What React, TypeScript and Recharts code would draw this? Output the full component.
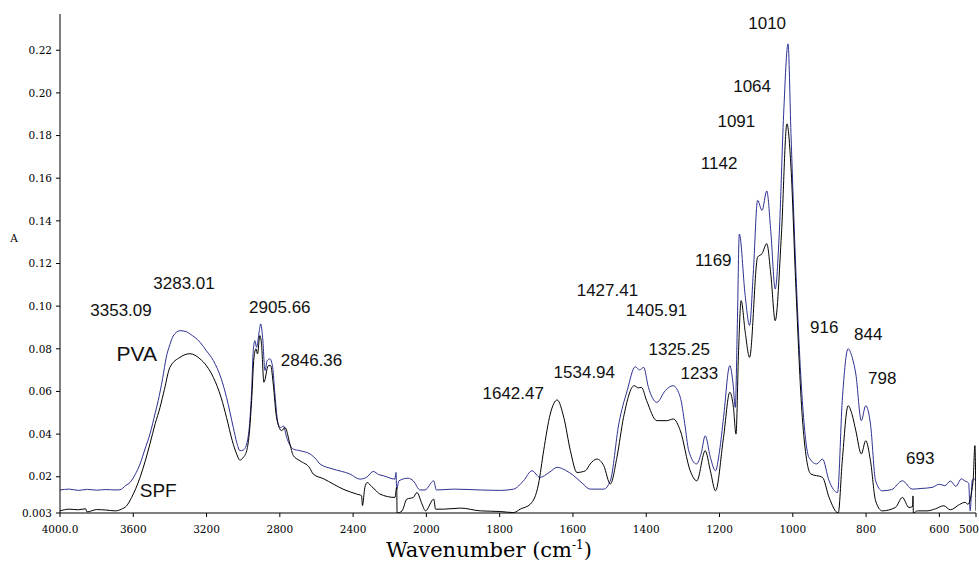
import React from 'react';
import { LineChart, Line, XAxis, YAxis, ReferenceDot } from 'recharts';

// PVA spectrum (blue), wavenumber cm-1 / absorbance
const pvaWave = [
  4000, 3950, 3900, 3850, 3800, 3750, 3700, 3673, 3640, 3618, 3590, 3563, 3536, 3509, 3480, 3464,
  3440, 3420, 3400, 3382, 3345, 3310, 3291, 3236, 3200, 3163, 3120, 3091, 3054, 3035, 3018, 3000,
  2981, 2965, 2954, 2945, 2936, 2927, 2912, 2905, 2894, 2881, 2869, 2854, 2839, 2827, 2809, 2795,
  2781, 2763, 2727, 2690, 2636, 2600, 2581, 2509, 2418, 2363, 2327, 2290, 2260, 2236, 2172, 2166,
  2162, 2150, 2100, 2071, 2035, 2008, 1980, 1973, 1925, 1853, 1798, 1762, 1735, 1712, 1690, 1665,
  1643, 1620, 1598, 1575, 1553, 1516, 1498, 1475, 1452, 1430, 1418, 1407, 1394, 1371, 1348, 1327,
  1307, 1295, 1284, 1263, 1250, 1239, 1225, 1211, 1200, 1189, 1172, 1163, 1157, 1151, 1146, 1130,
  1118, 1108, 1096, 1084, 1071, 1060, 1048, 1037, 1025, 1013, 1005, 992, 974, 956, 935, 919,
  901, 878, 865, 849, 838, 828, 813, 801, 788, 774, 756, 730, 701, 674, 650, 620,
  600, 585, 570, 555, 540, 530, 520, 516, 510, 505, 500,
];
const pvaAbs = [
  0.0138, 0.0142, 0.0136, 0.0141, 0.0137, 0.014, 0.0138, 0.0139, 0.016, 0.0173, 0.021, 0.026, 0.033, 0.04, 0.05, 0.0557,
  0.066, 0.076, 0.082, 0.086, 0.0885, 0.088, 0.087, 0.0831, 0.079, 0.0745, 0.066, 0.0572, 0.0431, 0.036, 0.0322, 0.0325,
  0.0354, 0.045, 0.0604, 0.0792, 0.0838, 0.0807, 0.0885, 0.0917, 0.0854, 0.0698, 0.0745, 0.0753, 0.0713, 0.0588, 0.0447, 0.043,
  0.0439, 0.0385, 0.033, 0.0322, 0.0307, 0.028, 0.026, 0.0236, 0.0213, 0.0189, 0.0197, 0.0225, 0.021, 0.0205, 0.0189, 0.022,
  0.0142, 0.0181, 0.0193, 0.018, 0.0138, 0.0138, 0.0181, 0.0138, 0.0142, 0.0138, 0.0136, 0.0142, 0.0181, 0.0228, 0.0197, 0.022,
  0.0244, 0.023, 0.0205, 0.017, 0.0142, 0.0142, 0.0181, 0.0447, 0.0604, 0.0716, 0.0701, 0.0713, 0.0619, 0.0549, 0.0604, 0.0627,
  0.0572, 0.045, 0.0322, 0.026, 0.031, 0.0392, 0.0291, 0.0228, 0.032, 0.0478, 0.0721, 0.0635, 0.0525, 0.0948, 0.1338, 0.105,
  0.0909, 0.115, 0.1496, 0.1449, 0.154, 0.135, 0.108, 0.1339, 0.19, 0.223, 0.181, 0.1183, 0.0557, 0.0291, 0.026, 0.0283,
  0.0181, 0.0126, 0.0557, 0.08, 0.076, 0.0682, 0.0463, 0.0533, 0.0447, 0.0181, 0.0134, 0.014, 0.0181, 0.0142, 0.0145, 0.015,
  0.0165, 0.0158, 0.018, 0.0155, 0.019, 0.018, 0.017, 0.004, 0.0185, 0.019, 0.018,
];

// SPF spectrum (black)
const spfWave = [
  4000, 3950, 3900, 3860, 3853, 3800, 3750, 3700, 3664, 3636, 3609, 3563, 3536, 3509, 3480, 3454,
  3430, 3400, 3345, 3291, 3236, 3200, 3163, 3120, 3091, 3060, 3036, 3018, 3000, 2981, 2965, 2954,
  2941, 2930, 2922, 2909, 2900, 2887, 2863, 2850, 2836, 2818, 2790, 2772, 2745, 2727, 2690, 2636,
  2618, 2560, 2509, 2450, 2381, 2354, 2349, 2336, 2323, 2300, 2281, 2254, 2172, 2162, 2160, 2133,
  2107, 2071, 2052, 2024, 2005, 1980, 1975, 1953, 1907, 1853, 1798, 1762, 1744, 1716, 1694, 1680,
  1662, 1643, 1625, 1607, 1589, 1566, 1553, 1535, 1516, 1498, 1480, 1462, 1433, 1422, 1413, 1399,
  1371, 1344, 1326, 1307, 1280, 1262, 1239, 1225, 1211, 1189, 1172, 1162, 1155, 1148, 1141, 1130,
  1118, 1096, 1084, 1071, 1060, 1048, 1031, 1016, 1005, 992, 974, 951, 919, 901, 876, 865,
  849, 838, 828, 813, 801, 788, 774, 756, 720, 701, 683, 673, 672, 671, 660, 634,
  610, 588, 570, 545, 530, 522, 508, 503, 500,
];
const spfAbs = [
  0.004, 0.0048, 0.0045, 0.005, 0.0035, 0.0046, 0.0044, 0.004, 0.0048, 0.0064, 0.0103, 0.0197, 0.027, 0.0354, 0.045, 0.0525,
  0.061, 0.0713, 0.076, 0.0777, 0.0753, 0.072, 0.0666, 0.057, 0.0478, 0.037, 0.0307, 0.0278, 0.029, 0.0322, 0.042, 0.0557,
  0.076, 0.08, 0.0776, 0.0862, 0.0823, 0.0643, 0.0721, 0.0721, 0.0635, 0.0478, 0.0416, 0.0431, 0.0354, 0.03, 0.0275, 0.024,
  0.0213, 0.019, 0.0166, 0.014, 0.0119, 0.0111, 0.0065, 0.015, 0.0173, 0.0155, 0.014, 0.0119, 0.0103, 0.015, 0.003, 0.004,
  0.0095, 0.0103, 0.0126, 0.0072, 0.004, 0.0095, 0.0048, 0.0048, 0.0053, 0.004, 0.0037, 0.0032, 0.0048, 0.0072, 0.0166, 0.0322,
  0.0494, 0.056, 0.0478, 0.0322, 0.022, 0.0228, 0.026, 0.0283, 0.0252, 0.0166, 0.0291, 0.0478, 0.0627, 0.0617, 0.0619, 0.0557,
  0.0463, 0.0463, 0.0471, 0.0416, 0.0228, 0.0181, 0.0322, 0.0228, 0.0134, 0.0385, 0.0596, 0.0525, 0.04, 0.0792, 0.1026, 0.088,
  0.076, 0.123, 0.1246, 0.1293, 0.115, 0.0932, 0.1339, 0.1855, 0.1652, 0.1105, 0.0478, 0.0213, 0.0197, 0.0103, 0.003, 0.0275,
  0.0533, 0.049, 0.0416, 0.0307, 0.0369, 0.0275, 0.0087, 0.004, 0.0056, 0.0103, 0.0056, 0.006, 0.011, 0.003, 0.004, 0.004,
  0.005, 0.0064, 0.0045, 0.007, 0.008, 0.0071, 0.018, 0.0346, 0.004,
];

// peak annotations (text, wavenumber, absorbance of the label centre)
const peakText = [
  '3353.09', '3283.01', '2905.66', '2846.36', '1642.47', '1534.94', '1427.41', '1405.91', '1325.25', '1233',
  '1169', '1142', '1091', '1064', '1010', '916', '844', '798', '693',
];
const peakWave = [3667, 3323, 2800, 2627, 1763, 1569, 1506, 1372, 1310, 1255, 1217, 1201, 1154, 1111, 1070, 914, 794, 756, 652];
const peakAbs = [0.0979, 0.1105, 0.0995, 0.0745, 0.059, 0.0688, 0.1073, 0.0979, 0.0796, 0.0684, 0.1214, 0.167, 0.1867, 0.2031, 0.2327, 0.09, 0.0867, 0.066, 0.0285];

const seriesText = ['PVA', 'SPF'];
const seriesWave = [3581, 3464];
const seriesAbs = [0.0776, 0.0134];

const yTicks = [0.003, 0.02, 0.04, 0.06, 0.08, 0.1, 0.12, 0.14, 0.16, 0.18, 0.2, 0.22];
const xTickWaves = [4000, 3600, 3200, 2800, 2400, 2000, 1800, 1600, 1400, 1200, 1000, 800, 600, 500];

// the spectrometer axis doubles its scale below 2000 cm-1
const toPos = (w: number) => (w >= 2000 ? (4000 - w) / 400 : 5 + (2000 - w) / 200);
const fromPos = (p: number) => (p <= 5 ? 4000 - p * 400 : 2000 - (p - 5) * 200);

const pvaData = pvaWave.map((w, i) => ({ p: toPos(w), a: pvaAbs[i] }));
const spfData = spfWave.map((w, i) => ({ p: toPos(w), a: spfAbs[i] }));
const xTicks = xTickWaves.map(toPos);
const lastTick = toPos(500);

const serif = 'DejaVu Serif';
const sans = 'Liberation Sans, Arial, sans-serif';

const XTick = (props: any) => {
  const { x, y, payload } = props;
  const p = payload.value;
  const w = Math.round(fromPos(p));
  const isLast = p === lastTick;
  return (
    <text
      x={isLast ? x + 3 : x}
      y={y}
      dy="0.71em"
      textAnchor={isLast ? 'end' : 'middle'}
      fontFamily={serif}
      fontSize={10.5}
      fill="#000"
    >
      {p === 0 ? '4000.0' : String(w)}
    </text>
  );
};

const textShape = (label: string, size: number) => (props: any) => (
  <text
    x={props.cx}
    y={props.cy}
    textAnchor="middle"
    dominantBaseline="central"
    fontFamily={sans}
    fontSize={size}
    fill="#111"
  >
    {label}
  </text>
);

export default function App() {
  return (
    <div style={{ position: 'absolute', left: 0, top: 0, width: 979, height: 567, background: '#fff' }}>
      <LineChart width={979} height={567} margin={{ top: 14, right: 3, bottom: 24, left: 0 }}>
        <XAxis
          type="number"
          dataKey="p"
          domain={[0, lastTick]}
          ticks={xTicks}
          interval={0}
          height={30}
          tickSize={4}
          tickMargin={9}
          tick={<XTick />}
          stroke="#000"
          allowDataOverflow
          label={{
            content: ({ viewBox }: any) => (
              <text x={viewBox.x + 429} y={viewBox.y + 44} textAnchor="middle" fontFamily={serif} fontSize={21} fill="#000">
                <tspan>Wavenumber (cm</tspan>
                <tspan dy={-8} fontSize={12}>-1</tspan>
                <tspan dy={8}>)</tspan>
              </text>
            ),
          }}
        />
        <YAxis
          type="number"
          dataKey="a"
          domain={[0.003, 0.237]}
          ticks={yTicks}
          interval={0}
          width={60}
          tickSize={4}
          tickMargin={4}
          stroke="#000"
          allowDataOverflow
          tick={{ fontFamily: serif, fontSize: 10.5, fill: '#000' }}
          tickFormatter={(v: number) => (v === 0.003 ? '0.003' : v.toFixed(2))}
          label={{
            content: ({ viewBox }: any) => (
              <text x={viewBox.x + 14} y={viewBox.y + 224} textAnchor="middle" dominantBaseline="central" fontFamily={serif} fontSize={10.5} fill="#000">
                A
              </text>
            ),
          }}
        />
        <Line data={pvaData} dataKey="a" type="monotone" stroke="#2e3192" strokeWidth={1} dot={false} isAnimationActive={false} />
        <Line data={spfData} dataKey="a" type="monotone" stroke="#000" strokeWidth={1} dot={false} isAnimationActive={false} />
        {peakText.map((t, i) => (
          <ReferenceDot key={t} x={toPos(peakWave[i])} y={peakAbs[i]} r={0} ifOverflow="visible" shape={textShape(t, 17)} />
        ))}
        {seriesText.map((t, i) => (
          <ReferenceDot key={t} x={toPos(seriesWave[i])} y={seriesAbs[i]} r={0} ifOverflow="visible" shape={textShape(t, t === 'PVA' ? 21 : 19)} />
        ))}
      </LineChart>
    </div>
  );
}
